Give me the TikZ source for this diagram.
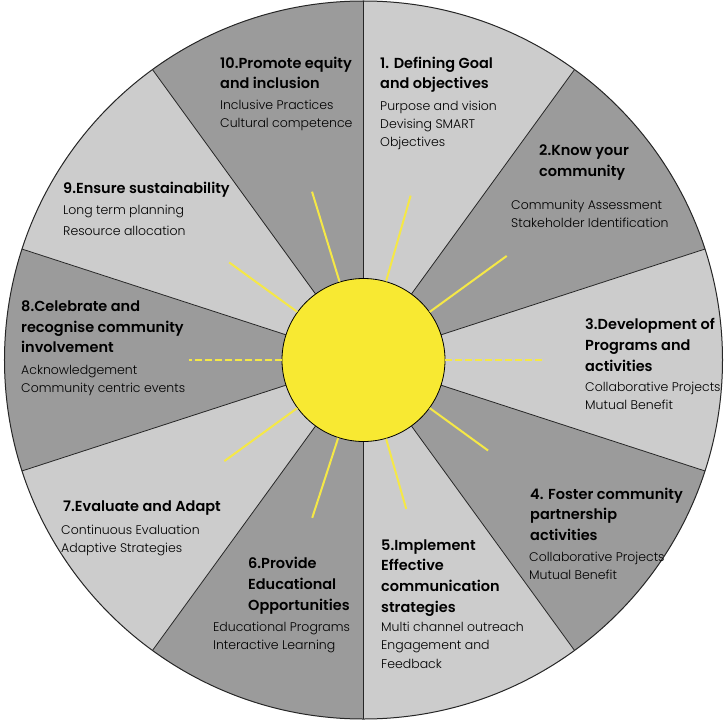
\documentclass[tikz,border=0pt]{standalone}
\usepackage{fontspec}
\setmainfont{Poppins}[UprightFont=* Light, BoldFont=* SemiBold]
\usepackage{tikz}
\usetikzlibrary{positioning}
\definecolor{lightsector}{RGB}{204,204,204}
\definecolor{darksector}{RGB}{155,155,155}
\definecolor{sunyellow}{RGB}{248,233,50}
\definecolor{rayyellow}{RGB}{245,232,70}

\begin{document}
\begin{tikzpicture}[x=1pt, y=1pt,
    heading/.style={font=\bfseries\fontsize{14.5}{20.7}\selectfont, align=left, inner sep=0pt, anchor=base west},
    items/.style={font=\fontsize{12.5}{18.1}\selectfont, align=left, inner sep=0pt, anchor=base west},
    ray/.style={rayyellow, line width=2pt}]
    \useasboundingbox (-363.5,-360) rectangle (363.5,360);
    % wheel
    \foreach \a/\c in {90/lightsector, 54/darksector, 18/lightsector, -18/darksector, -54/lightsector,
        -90/darksector, -126/lightsector, -162/darksector, 162/lightsector, 126/darksector}
        \fill[\c] (0,0) -- (\a:359) arc[start angle=\a, delta angle=-36, radius=359] -- cycle;
    \foreach \a in {90,54,...,-234}
        \draw[line width=0.8pt, black!85] (0,0) -- (\a:359);
    \draw[line width=1pt, black!85] (0,0) circle[radius=359];

    % sun
    \node[circle, draw=black, line width=0.8pt, fill=sunyellow, minimum size=163pt, inner sep=0pt] (sun) at (0,0) {};
    \foreach \a/\r in {36/177, 74/171, 107/176, 144/166, 216/172, 252/166, 286/155, 324/154}
        \draw[ray] (sun.\a) -- (\a:\r);
    \draw[ray, dash pattern=on 7pt off 3pt] (sun.0) -- (0:180);
    \draw[ray, dash pattern=on 7pt off 3pt] (sun.180) -- (180:174);

    % sector texts (placed at the baseline of the last line)
    \node[heading] (h1) at (16.5,271) {1. Defining Goal\\and objectives};
    \node[items] (i1) at (16.5,213.1) {Purpose and vision\\Devising SMART\\Objectives};

    \node[heading] (h2) at (175.5,183.5) {2.Know your\\community};
    \node[items] (i2) at (147.5,132.5) {Community Assessment\\Stakeholder Identification};

    \node[heading] (h3) at (221.5,-11.2) {3.Development of\\Programs and\\activities};
    \node[items] (i3) at (221.5,-49.3) {Collaborative Projects\\Mutual Benefit};

    \node[heading] (h4) at (166.5,-180.5) {4. Foster community\\partnership\\activities};
    \node[items] (i4) at (165.5,-219.4) {Collaborative Projects\\Mutual Benefit};

    \node[heading] (h5) at (17.5,-252.3) {5.Implement\\Effective\\communication\\strategies};
    \node[items] (i5) at (17.5,-308) {Multi channel outreach\\Engagement and\\Feedback};

    \node[heading] (h6) at (-115.5,-250) {6.Provide\\Educational\\Opportunities};
    \node[items] (i6) at (-150.5,-289.9) {Educational Programs\\Interactive Learning};

    \node[heading] (h7) at (-300.5,-151.3) {7.Evaluate and Adapt};
    \node[items] (i7) at (-302.5,-192.5) {Continuous Evaluation\\Adaptive Strategies};

    \node[heading] (h8) at (-342.5,7.3) {8.Celebrate and\\recognise community\\involvement};
    \node[items] (i8) at (-342.5,-32.6) {Acknowledgement\\Community centric events};

    \node[heading] (h9) at (-300.5,166.3) {9.Ensure sustainability};
    \node[items, font=\fontsize{12.5}{21.4}\selectfont] (i9) at (-300.5,124.1) {Long term planning\\Resource allocation};

    \node[heading] (h10) at (-143.5,271) {10.Promote equity\\and inclusion};
    \node[items] (i10) at (-143.5,232.6) {Inclusive Practices\\Cultural competence};
\end{tikzpicture}
\end{document}
